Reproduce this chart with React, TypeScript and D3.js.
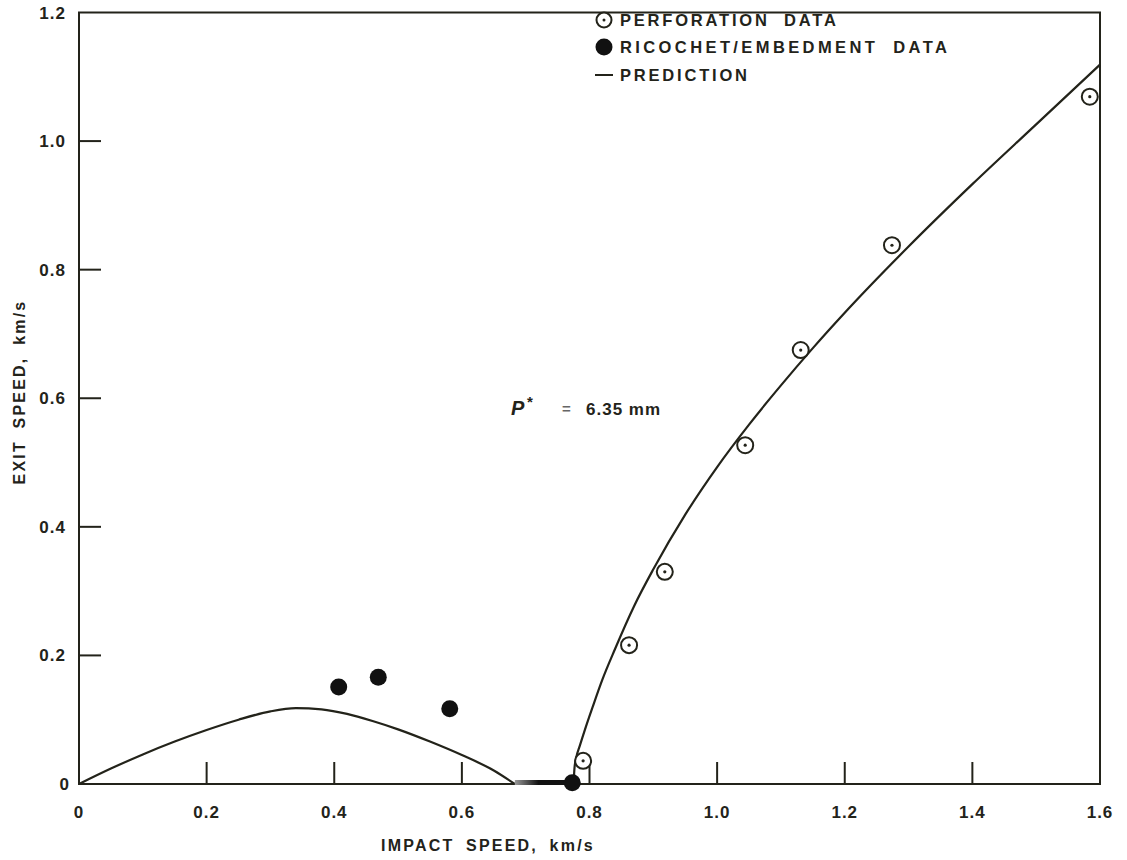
import React from "react";
import * as d3 from "d3";

const xTicks = [0, 0.2, 0.4, 0.6, 0.8, 1.0, 1.2, 1.4, 1.6];
const xTickLabels = ["0", "0.2", "0.4", "0.6", "0.8", "1.0", "1.2", "1.4", "1.6"];
const yTicks = [0, 0.2, 0.4, 0.6, 0.8, 1.0, 1.2];
const yTickLabels = ["0", "0.2", "0.4", "0.6", "0.8", "1.0", "1.2"];

const perforationX = [0.79, 0.862, 0.918, 1.044, 1.131, 1.274, 1.584];
const perforationY = [0.036, 0.216, 0.33, 0.527, 0.675, 0.838, 1.069];

const ricochetX = [0.407, 0.469, 0.581, 0.773];
const ricochetY = [0.151, 0.166, 0.117, 0.002];

const ricochetCurveX = [0, 0.05, 0.1, 0.15, 0.2, 0.25, 0.3, 0.34, 0.38, 0.42, 0.46, 0.5, 0.55, 0.6, 0.65, 0.683];
const ricochetCurveY = [0, 0.024, 0.046, 0.066, 0.084, 0.1, 0.113, 0.118, 0.116, 0.109, 0.098, 0.085, 0.066, 0.045, 0.021, 0];

const embedX = [0.683, 0.775];
const embedY = [0, 0];

const perfCurveX = [0.775, 0.7765, 0.779, 0.785, 0.793, 0.805, 0.82, 0.84, 0.87, 0.9, 0.95, 1.0, 1.05, 1.1, 1.15, 1.2, 1.3, 1.4, 1.5, 1.6];
const perfCurveY = [0, 0.025, 0.04, 0.06, 0.085, 0.12, 0.162, 0.21, 0.277, 0.334, 0.419, 0.493, 0.559, 0.62, 0.678, 0.733, 0.836, 0.933, 1.026, 1.119];

const legendItems = ["PERFORATION DATA", "RICOCHET/EMBEDMENT DATA", "PREDICTION"];

export default function App() {
  const left = 79, right = 1100, top = 12.5, bottom = 784;
  const x = d3.scaleLinear().domain([0, 1.6]).range([left, right]);
  const y = d3.scaleLinear().domain([0, 1.2]).range([bottom, top]);
  const ink = "#23231a";
  const font = "'Liberation Sans', Arial, Helvetica, sans-serif";

  const line = d3
    .line<[number, number]>()
    .x((d) => x(d[0]))
    .y((d) => y(d[1]))
    .curve(d3.curveMonotoneX);

  const ricPath = line(ricochetCurveX.map((v, i) => [v, ricochetCurveY[i]]) as [number, number][]) || "";
  const perfPath = line(perfCurveX.map((v, i) => [v, perfCurveY[i]]) as [number, number][]) || "";

  const lgX = 604;
  const lgText = 620;
  const lgRows = [20, 47, 75];
  const e0 = x(embedX[0]);
  const e1 = x(embedX[1]);

  return (
    <svg width={1127} height={860} style={{ position: "absolute", left: 0, top: 0, background: "#fff" }}>
      <defs>
        <linearGradient id="embGrad" gradientUnits="userSpaceOnUse" x1={e0} x2={e1} y1={0} y2={0}>
          <stop offset="0" stopColor="#999" />
          <stop offset="0.4" stopColor="#111" />
          <stop offset="1" stopColor="#111" />
        </linearGradient>
      </defs>
      {/* frame */}
      <rect x={left} y={top} width={right - left} height={bottom - top} fill="none" stroke={ink} strokeWidth={2} />
      {/* x ticks */}
      {xTicks.map((t, i) => (
        <g key={"xt" + i}>
          {i > 0 && i < xTicks.length - 1 && (
            <line x1={x(t)} x2={x(t)} y1={bottom} y2={bottom - 22} stroke={ink} strokeWidth={2} />
          )}
          <text x={x(t)} y={818} textAnchor="middle" fontFamily={font} fontWeight="bold" fontSize={17} letterSpacing={1} fill={ink}>
            {xTickLabels[i]}
          </text>
        </g>
      ))}
      {/* y ticks */}
      {yTicks.map((t, i) => (
        <g key={"yt" + i}>
          {i > 0 && i < yTicks.length - 1 && (
            <line x1={left} x2={left + 22} y1={y(t)} y2={y(t)} stroke={ink} strokeWidth={2} />
          )}
          <text x={i === 0 ? 70 : 66} y={y(t) + 6} textAnchor="end" fontFamily={font} fontWeight="bold" fontSize={17} letterSpacing={1} fill={ink}>
            {yTickLabels[i]}
          </text>
        </g>
      ))}
      {/* axis titles */}
      <text x={488} y={851} textAnchor="middle" fontFamily={font} fontWeight="bold" fontSize={16} letterSpacing={2.2} wordSpacing={5} fill={ink}>
        IMPACT SPEED, km/s
      </text>
      <text
        transform={`translate(25,392) rotate(-90)`}
        textAnchor="middle"
        fontFamily={font}
        fontWeight="bold"
        fontSize={16}
        letterSpacing={2.2}
        wordSpacing={5}
        fill={ink}
      >
        EXIT SPEED, km/s
      </text>
      {/* prediction curves */}
      <path d={ricPath} fill="none" stroke={ink} strokeWidth={2.2} />
      <line x1={e0} x2={e1} y1={y(embedY[0]) - 1.5} y2={y(embedY[1]) - 1.5} stroke="url(#embGrad)" strokeWidth={5} />
      <path d={perfPath} fill="none" stroke={ink} strokeWidth={2.2} />
      {/* ricochet points */}
      {ricochetX.map((v, i) => (
        <circle key={"r" + i} cx={x(v)} cy={y(ricochetY[i])} r={8.5} fill="#111" />
      ))}
      {/* perforation points */}
      {perforationX.map((v, i) => (
        <g key={"p" + i}>
          <circle cx={x(v)} cy={y(perforationY[i])} r={8} fill="#fff" stroke={ink} strokeWidth={2} />
          <circle cx={x(v)} cy={y(perforationY[i])} r={1.6} fill={ink} />
        </g>
      ))}
      {/* P* annotation */}
      <text x={511} y={415} fontFamily={font} fontWeight="bold" fontSize={20} fill={ink} fontStyle="italic">
        P
      </text>
      <text x={527} y={407} fontFamily={font} fontWeight="bold" fontSize={15} fill={ink}>
        *
      </text>
      <text x={562} y={414} fontFamily={font} fontWeight="bold" fontSize={15} fill="#666">
        =
      </text>
      <text x={586} y={415} fontFamily={font} fontWeight="bold" fontSize={17} fill={ink} letterSpacing={1}>
        6.35 mm
      </text>
      {/* legend */}
      <g>
        <circle cx={lgX} cy={lgRows[0]} r={7.5} fill="#fff" stroke={ink} strokeWidth={2} />
        <circle cx={lgX} cy={lgRows[0]} r={1.5} fill={ink} />
        <text x={lgText} y={lgRows[0] + 6} fontFamily={font} fontWeight="bold" fontSize={16.5} letterSpacing={2.8} wordSpacing={7} fill={ink}>
          {legendItems[0]}
        </text>
        <circle cx={lgX} cy={lgRows[1]} r={8.5} fill="#111" />
        <text x={lgText} y={lgRows[1] + 6} fontFamily={font} fontWeight="bold" fontSize={16.5} letterSpacing={3.4} wordSpacing={7} fill={ink}>
          {legendItems[1]}
        </text>
        <line x1={lgX - 9} x2={lgX + 9} y1={lgRows[2]} y2={lgRows[2]} stroke={ink} strokeWidth={2} />
        <text x={lgText} y={lgRows[2] + 6} fontFamily={font} fontWeight="bold" fontSize={16.5} letterSpacing={2.8} wordSpacing={7} fill={ink}>
          {legendItems[2]}
        </text>
      </g>
    </svg>
  );
}
